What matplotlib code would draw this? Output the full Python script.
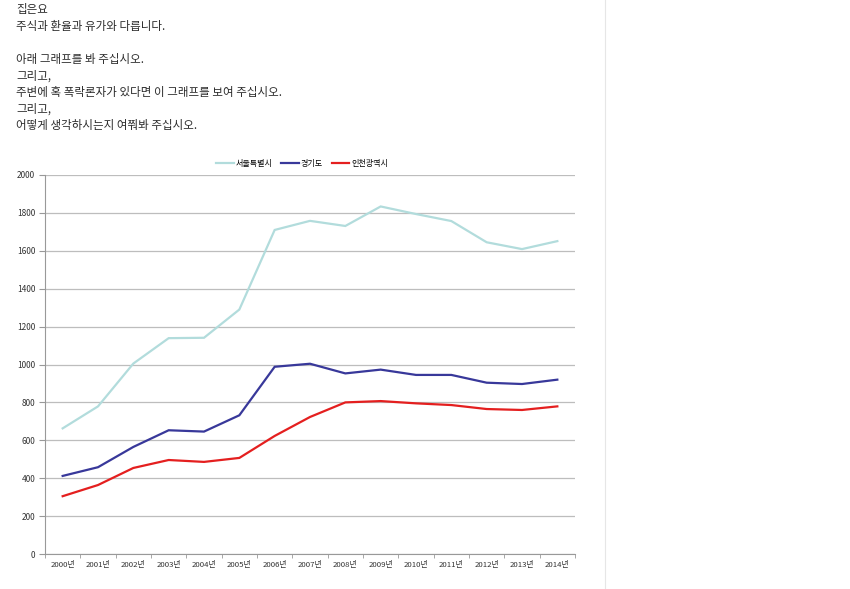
"""plot.py — 수도권 연도별 추이 (서울/경기/인천), 2000–2014."""
import matplotlib
matplotlib.use("Agg")
import matplotlib.pyplot as plt
from matplotlib.lines import Line2D
from matplotlib.ticker import FixedLocator

plt.rcParams["font.family"] = ["Noto Sans CJK KR", "DejaVu Sans"]

years = [f"{y}년" for y in range(2000, 2015)]
seoul = [663, 779, 1005, 1139, 1141, 1290, 1710, 1758, 1731, 1834, 1794, 1757, 1645, 1609, 1651]
gyeonggi = [412, 458, 565, 653, 646, 732, 988, 1004, 953, 973, 945, 945, 904, 897, 920]
incheon = [305, 364, 454, 496, 486, 507, 623, 723, 800, 807, 795, 786, 765, 760, 779]

series = [
    ("서울특별시", seoul, "#b2dcdc"),
    ("경기도", gyeonggi, "#38389a"),
    ("인천광역시", incheon, "#e41f1f"),
]

intro = [
    "집은요",
    "주식과 환율과 유가와 다릅니다.",
    "",
    "아래 그래프를 봐 주십시오.",
    "그리고,",
    "주변에 혹 폭락론자가 있다면 이 그래프를 보여 주십시오.",
    "그리고,",
    "어떻게 생각하시는지 여쭤봐 주십시오.",
]

W, H = 850, 589
fig = plt.figure(figsize=(W / 100, H / 100), dpi=100)

# ---- intro text ----
for i, line in enumerate(intro):
    fig.text(16 / W, 1 - (10 + i * 16.5) / H, line, fontsize=8.3,
             color="#2a2a2a", va="center", ha="left")

# faint page divider on the right
fig.add_artist(Line2D([605 / W, 605 / W], [0, 1], transform=fig.transFigure,
                      color="#e6e6e6", lw=0.8))

# ---- chart ----
ax = fig.add_axes([45 / W, 1 - 554 / H, 530 / W, 379 / H])
x = list(range(len(years)))
for name, vals, col in series:
    ax.plot(x, vals, color=col, lw=1.6, label=name, solid_joinstyle="miter")

ax.set_xlim(-0.5, len(years) - 0.5)
ax.set_ylim(0, 2000)
ax.set_yticks(range(0, 2001, 200))
ax.yaxis.grid(True, color="#bdbdbd", lw=0.9)
ax.set_axisbelow(True)

ax.set_xticks(x)
ax.set_xticklabels(years, fontsize=5.6, color="#333333")
ax.tick_params(axis="x", which="major", length=0, pad=5)
ax.xaxis.set_minor_locator(FixedLocator([i - 0.5 for i in range(len(years) + 1)]))
ax.tick_params(axis="x", which="minor", length=3, color="#999999")
ax.tick_params(axis="y", labelsize=6, labelcolor="#333333", length=4,
               color="#999999", pad=3)

for side in ("top", "right"):
    ax.spines[side].set_visible(False)
for side in ("left", "bottom"):
    ax.spines[side].set_color("#999999")
    ax.spines[side].set_linewidth(0.8)

ax.legend(loc="lower center", bbox_to_anchor=(0.485, 1.0), ncol=3,
          frameon=False, fontsize=5.8, handlelength=2.2,
          handletextpad=0.2, columnspacing=1.1)

fig.savefig("out.png", dpi=100, facecolor="white")
